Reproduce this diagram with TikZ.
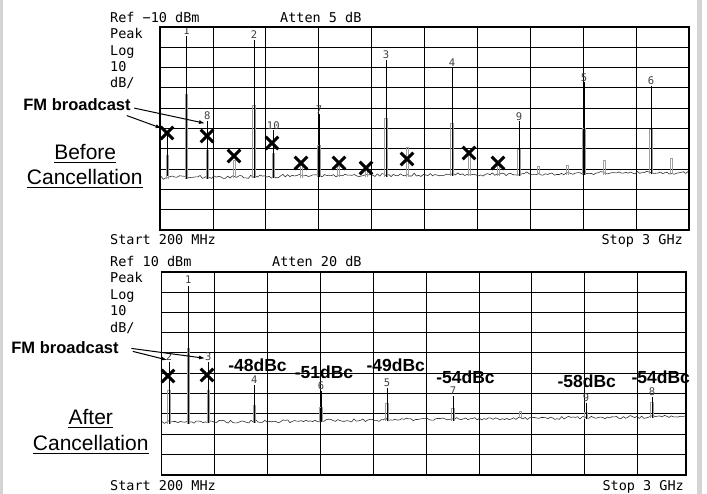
\documentclass[tikz,border=0pt]{standalone}
\usepackage{fontspec}
\setmainfont{Liberation Sans}
\newfontfamily\instfont{DejaVu Sans Mono}
\usetikzlibrary{arrows.meta}

\tikzset{
	grid line/.style={black, line width=0.8pt},
	frame/.style={black, line width=1.8pt},
	noise/.style={black!85, line width=0.55pt, line join=round},
	pulse/.style={gray!75, line width=0.75pt},
	peak/.style={black, line width=0.6pt},
	xcross/.style={black, line width=3.1pt},
	inst/.style={font=\instfont\fontsize{13.5}{14}\selectfont, inner sep=0pt},
	mnum/.style={font=\instfont\fontsize{10.5}{10}\selectfont, text=black!75, inner sep=0pt},
	note/.style={font=\bfseries\fontsize{16.5}{18}\selectfont, inner sep=1pt},
	dbc/.style={font=\bfseries\fontsize{17.5}{18}\selectfont, inner sep=0pt},
	state/.style={font=\fontsize{21}{22}\selectfont, inner sep=0pt},
	fm arrow/.style={-{Latex[length=6pt,width=4pt]}, line width=1pt},
}
\definecolor{sidebar}{RGB}{212,212,212}

\begin{document}
\begin{tikzpicture}[x=1pt,y=-1pt]
	\useasboundingbox (0,0) rectangle (707,494);
	%border
	\fill[white] (0,0) rectangle (707,494);
	\fill[sidebar] (0,0) rectangle (3,494);
	\fill[sidebar] (697,0) rectangle (702,494);
	\pgfmathsetseed{12}

	%top screen
	\foreach \i in {1,...,9} {
		\draw[grid line] ({160+52.9*\i},27) -- ({160+52.9*\i},230);
		\draw[grid line] (160,{27+20.3*\i}) -- (689,{27+20.3*\i});
	}
	\draw[noise] plot[domain=161:688, samples=230] (\x,{178-5*(\x-161)/527+1.4*rand-1.3*rnd});
	%small spurs
	\foreach \px/\gt in {167.5/155, 234/160, 301/165, 338/166, 366/168, 407/147, 469/150, 498/165, 538/166, 567/165, 604/160, 671/158} {
		\pgfmathsetmacro\ny{179-5*(\px-161)/527}
		\draw[pulse] ({\px-1},\ny) -- ({\px-1},\gt) -- ({\px+1},\gt) -- ({\px+1},\ny);
	}
	\draw[peak] (167.5,176) -- (167.5,133);
	%marked peaks
	\foreach \px/\gt/\bt/\ly/\lab in {186.5/94/36/31/1, 207.3/150/121/116/8, 254/105/40/35/2, 273.3/153/130/125.5/10, 319/145/114/110/7, 386/118/60/55/3, 452/123/68/63/4, 519/149/121/117/9, 584/128/82/78/5, 651/129/86/81/6} {
		\pgfmathsetmacro\ny{179-5*(\px-161)/527}
		\draw[pulse] ({\px-1.3},\ny) -- ({\px-1.3},\gt) -- ({\px+1.3},\gt) -- ({\px+1.3},\ny);
		\draw[peak] (\px,\ny) -- (\px,\bt);
		\node[mnum] (ta\lab) at (\px,\ly) {\lab};
	}
	\draw[frame] (160,27) rectangle (689,230);
	\foreach \cx/\cy in {167/133, 207/136, 234/156, 272/143, 301/163, 339/163, 366/168, 407/159, 469/153, 498/163}
		\draw[xcross] ({\cx-6.3},{\cy-6.3}) -- ({\cx+6.3},{\cy+6.3}) ({\cx-6.3},{\cy+6.3}) -- ({\cx+6.3},{\cy-6.3});

	%top texts
	\node[inst, anchor=base west] (refA) at (110,23) {Ref −10 dBm};
	\node[inst, anchor=base west] (attA) at (280,23) {Atten 5 dB};
	\node[inst, anchor=base west] (pkA) at (110,39) {Peak};
	\node[inst, anchor=base west] (logA) at (110,55.5) {Log};
	\node[inst, anchor=base west] (divA) at (110,71.5) {10};
	\node[inst, anchor=base west] (dbA) at (110,88) {dB/};
	\node[inst, anchor=base west] (startA) at (110,245) {Start 200 MHz};
	\node[inst, anchor=base east] (stopA) at (683,245) {Stop 3 GHz};
	\node[note, anchor=base] (fmA) at (77,111) {FM broadcast};
	\coordinate (tipA1) at (161.7,128.3);
	\coordinate (tipA8) at (205,123.3);
	\draw[fm arrow] ([xshift=2.5pt,yshift=-3pt]fmA.east) -- (tipA8);
	\draw[fm arrow] ([xshift=-5pt,yshift=-10.5pt]fmA.east) -- (tipA1);
	\node[state, anchor=base] (befA) at (85.2,159.3) {Before};
	\node[state, anchor=base] (canA) at (84.7,184.3) {Cancellation};
	\draw[line width=1.1pt] ([yshift=-3.4pt]befA.base west) -- ([yshift=-3.4pt]befA.base east);
	\draw[line width=1.1pt] ([yshift=-3.4pt]canA.base west) -- ([yshift=-3.4pt]canA.base east);

	%bottom screen
	\foreach \i in {1,...,9} {
		\draw[grid line] ({161.5+52.9*\i},271.7) -- ({161.5+52.9*\i},474.7);
		\draw[grid line] (161.5,{271.7+20.3*\i}) -- (686,{271.7+20.3*\i});
	}
	\draw[noise] plot[domain=162:685, samples=230] (\x,{423-6*(\x-162)/523+1.3*rand-1.1*rnd});
	\draw[pulse] (519,418) -- (519,411) -- (521,411) -- (521,418);
	\foreach \px/\gt/\bt/\ly/\lab in {169/390/362/357/2, 188.3/348/286/280/1, 208.3/390/362/357/3, 254.3/405/385/380/4, 321/407/391/386/6, 387/403/388/383/5, 453/408/396/391/7, 586/412/403/398/9, 652/402/397/392/8} {
		\pgfmathsetmacro\ny{424-6*(\px-162)/523}
		\draw[pulse] ({\px-1.3},\ny) -- ({\px-1.3},\gt) -- ({\px+1.3},\gt) -- ({\px+1.3},\ny);
		\draw[peak] (\px,\ny) -- (\px,\bt);
		\node[mnum] (tb\lab) at (\px,\ly) {\lab};
	}
	\draw[frame] (161.5,271.7) rectangle (686,474.7);
	\foreach \cx/\cy in {168/376, 207/375}
		\draw[xcross] ({\cx-6.3},{\cy-6.3}) -- ({\cx+6.3},{\cy+6.3}) ({\cx-6.3},{\cy+6.3}) -- ({\cx+6.3},{\cy-6.3});

	%bottom texts
	\node[inst, anchor=base west] (refB) at (110,267) {Ref 10 dBm};
	\node[inst, anchor=base west] (attB) at (272,267) {Atten 20 dB};
	\node[inst, anchor=base west] (pkB) at (110,283) {Peak};
	\node[inst, anchor=base west] (logB) at (110,299.5) {Log};
	\node[inst, anchor=base west] (divB) at (110,316) {10};
	\node[inst, anchor=base west] (dbB) at (110,332.5) {dB/};
	\node[inst, anchor=base west] (startB) at (110,490) {Start 200 MHz};
	\node[inst, anchor=base east] (stopB) at (684,490) {Stop 3 GHz};
	\node[note, anchor=base] (fmB) at (65,353.3) {FM broadcast};
	\coordinate (tipB2) at (167.3,360);
	\coordinate (tipB3) at (205,358.3);
	\draw[fm arrow] ([xshift=11.5pt,yshift=-1pt]fmB.east) -- (tipB3);
	\draw[fm arrow] ([xshift=13pt,yshift=-4pt]fmB.east) -- (tipB2);
	\node[dbc, anchor=base] (c4) at (257.5,371.5) {-48dBc};
	\node[dbc, anchor=base] (c6) at (324,378) {-51dBc};
	\node[dbc, anchor=base] (c5) at (395.8,371.5) {-49dBc};
	\node[dbc, anchor=base] (c7) at (465.5,383) {-54dBc};
	\node[dbc, anchor=base] (c9) at (586.7,387) {-58dBc};
	\node[dbc, anchor=base] (c8) at (660.8,383) {-54dBc};
	\node[state, anchor=base] (aftB) at (90.8,424.3) {After};
	\node[state, anchor=base] (canB) at (90.7,450) {Cancellation};
	\draw[line width=1.1pt] ([yshift=-3.4pt]aftB.base west) -- ([yshift=-3.4pt]aftB.base east);
	\draw[line width=1.1pt] ([yshift=-3.4pt]canB.base west) -- ([yshift=-3.4pt]canB.base east);
\end{tikzpicture}
\end{document}
